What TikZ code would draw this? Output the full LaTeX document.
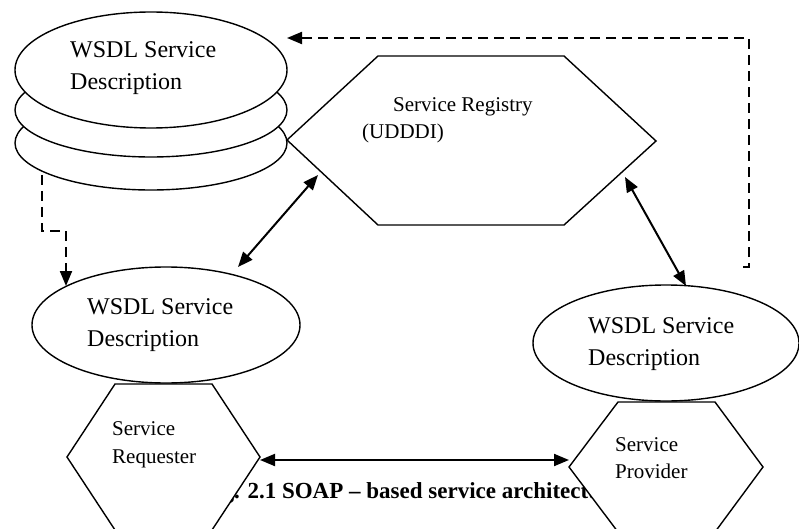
\documentclass[tikz,border=0pt]{standalone}
\usepackage{fontspec}
\setmainfont{Liberation Serif}
\usetikzlibrary{arrows.meta,shapes.geometric}
\begin{document}
\begin{tikzpicture}[x=1pt,y=-1pt,
  outline/.style={draw, line width=1.4pt, fill=white, line join=miter},
  oval/.style={ellipse, outline, inner sep=0pt},
  bigtxt/.style={font=\fontsize{24}{28}\selectfont, anchor=base west, inner sep=0pt},
  smalltxt/.style={font=\fontsize{21}{25}\selectfont, anchor=base west, inner sep=0pt},
  twoway/.style={line width=2pt, {Triangle[length=15pt,width=12pt]}-{Triangle[length=15pt,width=12pt]}},
  dashedlink/.style={line width=2pt, dash pattern=on 10pt off 6pt, -{Triangle[length=15pt,width=12pt]}}
]
\useasboundingbox (0,0) rectangle (799,529);

% caption, partly covered by the two hexagons drawn later
\node[font=\fontsize{23}{26}\selectfont\bfseries, anchor=base west, inner sep=0pt] (caption) at (202,498)
  {Fig. 2.1 SOAP – based service architecture};

% stacked service descriptions
\node[oval, minimum width=272pt, minimum height=94pt] (stackC) at (151,143) {};
\node[oval, minimum width=272pt, minimum height=94pt] (stackB) at (151,110) {};
\node[oval, minimum width=272pt, minimum height=116pt] (stackA) at (151,70) {};
\node[bigtxt] (stackA1) at (70,58) {WSDL Service};
\node[bigtxt] (stackA2) at (70,90) {Description};

% registry hexagon
\draw[outline] (287,140) -- (378,56) -- (564,56) -- (656,141) -- (564,225) -- (378,225) -- cycle;
\node[smalltxt] (reg1) at (393,112) {Service Registry};
\node[smalltxt] (reg2) at (362,139) {(UDDDI)};

% requester side
\node[oval, minimum width=268pt, minimum height=116pt] (reqDesc) at (166,325) {};
\node[bigtxt] (reqDesc1) at (87,314) {WSDL Service};
\node[bigtxt] (reqDesc2) at (87,346) {Description};
\draw[outline] (67,457) -- (115,384) -- (212,384) -- (260,457) -- (212,530) -- (115,530) -- cycle;
\node[smalltxt] (req1) at (112,435) {Service};
\node[smalltxt] (req2) at (112,463) {Requester};

% provider side
\node[oval, minimum width=266pt, minimum height=116pt] (provDesc) at (666,343) {};
\node[bigtxt] (provDesc1) at (588,333) {WSDL Service};
\node[bigtxt] (provDesc2) at (588,365) {Description};
\draw[outline] (569,467) -- (618,402) -- (715,402) -- (763,467) -- (715,532) -- (618,532) -- cycle;
\node[smalltxt] (prov1) at (615,451) {Service};
\node[smalltxt] (prov2) at (615,478) {Provider};

% connector end points
\coordinate (regSW) at (318,175);
\coordinate (reqDescNE) at (238,267);
\coordinate (regSE) at (625,177);
\coordinate (provDescN) at (686,286);
\coordinate (reqE) at (260,460);
\coordinate (provW) at (569,460);
\coordinate (stackFoot) at (42,175);
\coordinate (stackBend) at (42,231);
\coordinate (reqDescBend) at (66,231);
\coordinate (reqDescTop) at (66,286);
\coordinate (provTail) at (743,267);
\coordinate (provCorner) at (749,267);
\coordinate (topCorner) at (749,38);
\coordinate (stackHead) at (287,38);

% solid exchanges
\draw[twoway] (reqDescNE) -- (regSW);
\draw[twoway] (regSE) -- (provDescN);
\draw[twoway] (reqE) -- (provW);

% dashed publish / fetch paths
\draw[dashedlink] (stackFoot) -- (stackBend) -- (reqDescBend) -- (reqDescTop);
\draw[dashedlink] (provTail) -- (provCorner) -- (topCorner) -- (stackHead);
\end{tikzpicture}
\end{document}
